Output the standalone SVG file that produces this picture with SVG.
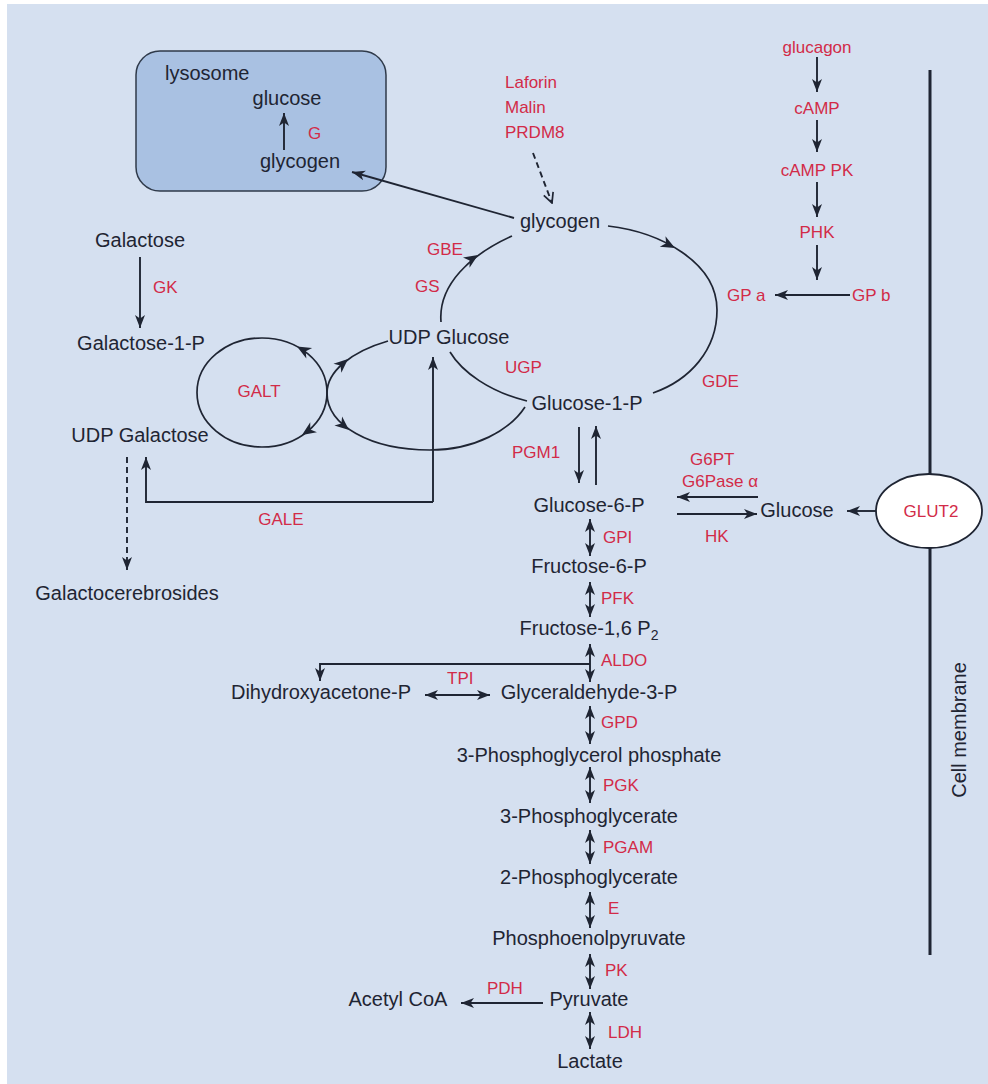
<svg xmlns="http://www.w3.org/2000/svg" xmlns:xlink="http://www.w3.org/1999/xlink" width="988" height="1084" viewBox="0 0 988 1084">
  <style>
    text { font-family: "Liberation Sans", Arial, sans-serif; }
    .t { font-size: 20px; fill: #1f2533; }
    .r { font-size: 17px; fill: #d22b48; }
    .m { text-anchor: middle; }
    .ln { fill: none; stroke: #1f2533; stroke-width: 1.9; }
    .cv { fill: none; stroke: #1f2533; stroke-width: 1.7; }
    .ar { marker-end: url(#ah); }
    .da { marker-start: url(#ah); marker-end: url(#ah); }
    .dash { stroke-dasharray: 6 4; }
  </style>
  <defs>
    <marker id="ah" viewBox="0 0 13 11" refX="13" refY="5.5" markerWidth="13" markerHeight="11" markerUnits="userSpaceOnUse" orient="auto-start-reverse">
      <path d="M0,0.5 L13,5.5 L0,10.5 L3.5,5.5 Z" fill="#1f2533"/>
    </marker>
    <marker id="ov" viewBox="0 0 12 12" refX="11" refY="6" markerWidth="12" markerHeight="12" markerUnits="userSpaceOnUse" orient="auto">
      <path d="M1,1 L11,6 L1,11" fill="none" stroke="#1f2533" stroke-width="1.7"/>
    </marker>
    <path id="hd" d="M-14,-6 L0,0 L-14,6 L-10,0 Z" fill="#1f2533"/>
  </defs>

  <!-- page -->
  <rect x="0" y="0" width="988" height="1084" fill="#ffffff"/>
  <rect x="7" y="4" width="981" height="1080" fill="#d5e0f0"/>

  <!-- cell membrane -->
  <g id="membrane">
    <line x1="930" y1="70" x2="930" y2="955" stroke="#1f2533" stroke-width="3"/>
    <text class="t m" transform="translate(966,730) rotate(-90)">Cell membrane</text>
  </g>

  <!-- lysosome compartment -->
  <g id="lysosome">
    <rect x="136" y="51" width="250" height="140" rx="24" fill="#a9c1e2" stroke="#2f3a4a" stroke-width="1.5"/>
    <text class="t" x="165" y="80">lysosome</text>
    <text class="t m" x="287" y="105">glucose</text>
    <text class="t m" x="300" y="168">glycogen</text>
    <text class="r" x="308" y="139">G</text>
  </g>

  <!-- connectors -->
  <g id="connectors">
    <path class="ln ar" d="M284,150 V113"/>
    <path class="ln ar" d="M514,218 L352,172"/>
    <path class="ln dash" d="M533,153 L552,203" marker-end="url(#ov)"/>

    <!-- glucagon cascade -->
    <path class="ln ar" d="M817,57 V92"/>
    <path class="ln ar" d="M817,120 V152"/>
    <path class="ln ar" d="M817,182 V217"/>
    <path class="ln ar" d="M817,245 V280"/>
    <path class="ln ar" d="M850,295 H775"/>

    <!-- glycogen cycle -->
    <path class="cv" d="M441,322 C438,285 470,255 512,236"/>
    <path class="cv" d="M608,226 C660,232 717,262 717,310 C717,350 690,380 653,393"/>
    <path class="cv" d="M450,352 C462,372 490,392 527,401"/>
    <use xlink:href="#hd" href="#hd" transform="translate(478,255) rotate(-33)"/>
    <use xlink:href="#hd" href="#hd" transform="translate(675,248) rotate(28)"/>

    <!-- galactose branch -->
    <path class="ln ar" d="M140,257 V328"/>
    <path class="ln dash ar" d="M127,457 V570"/>
    <ellipse class="cv" cx="262" cy="392.5" rx="65" ry="54.5"/>
    <use xlink:href="#hd" href="#hd" transform="translate(297,346.5) rotate(209)"/>
    <use xlink:href="#hd" href="#hd" transform="translate(302,435) rotate(146)"/>
    <path class="cv" d="M388,341 C350,352 327,372 327,393 C327,425 370,450 430,450 C475,450 510,430 525,407"/>
    <use xlink:href="#hd" href="#hd" transform="translate(348,359) rotate(-41)"/>
    <use xlink:href="#hd" href="#hd" transform="translate(349,430) rotate(40)"/>
    <path class="ln ar" d="M433,502 V357"/>
    <path class="ln ar" d="M433,502 H146 V457"/>

    <!-- glucose-1-P / glucose-6-P -->
    <path class="ln ar" d="M579,427 V483"/>
    <path class="ln ar" d="M596,485 V426"/>
    <path class="ln ar" d="M758,497 H677"/>
    <path class="ln ar" d="M677,514 H757"/>
    <path class="ln ar" d="M876,511 H847"/>

    <!-- glycolysis -->
    <path class="ln da" d="M590,519 V556"/>
    <path class="ln da" d="M590,582 V617"/>
    <path class="ln da" d="M590,644 V682"/>
    <path class="ln ar" d="M590,664 H320 V681"/>
    <path class="ln da" d="M425,695 H490"/>
    <path class="ln da" d="M590,706 V744"/>
    <path class="ln da" d="M590,767 V803"/>
    <path class="ln da" d="M590,830 V864"/>
    <path class="ln da" d="M590,892 V928"/>
    <path class="ln da" d="M590,954 V989"/>
    <path class="ln ar" d="M543,1003 H461"/>
    <path class="ln da" d="M590,1012 V1049"/>
  </g>

  <!-- transporter -->
  <g id="glut2">
    <ellipse cx="929" cy="511" rx="53" ry="37" fill="#ffffff" stroke="#1f2533" stroke-width="1.8"/>
    <text class="r m" x="931" y="517">GLUT2</text>
  </g>

  <!-- regulators -->
  <g id="regulators">
    <text class="r" x="505" y="88">Laforin</text>
    <text class="r" x="505" y="113">Malin</text>
    <text class="r" x="505" y="138">PRDM8</text>
  </g>
  <g id="glucagon"><text class="r m" x="817" y="53">glucagon</text></g>
  <g id="camp"><text class="r m" x="817" y="114">cAMP</text></g>
  <g id="camp-pk"><text class="r m" x="817" y="176">cAMP PK</text></g>
  <g id="phk"><text class="r m" x="817" y="238">PHK</text></g>
  <g id="gpa"><text class="r" x="727" y="301">GP a</text></g>
  <g id="gpb"><text class="r" x="852" y="301">GP b</text></g>

  <!-- metabolites -->
  <g id="glycogen"><text class="t m" x="560" y="228">glycogen</text></g>
  <g id="udp-glucose"><text class="t m" x="449" y="344">UDP Glucose</text></g>
  <g id="glucose-1-p"><text class="t m" x="587" y="410">Glucose-1-P</text></g>
  <g id="galactose"><text class="t m" x="140" y="247">Galactose</text></g>
  <g id="galactose-1-p"><text class="t m" x="141" y="350">Galactose-1-P</text></g>
  <g id="udp-galactose"><text class="t m" x="140" y="442">UDP Galactose</text></g>
  <g id="galactocerebrosides"><text class="t m" x="127" y="600">Galactocerebrosides</text></g>
  <g id="glucose-6-p"><text class="t m" x="589" y="512">Glucose-6-P</text></g>
  <g id="glucose"><text class="t m" x="797" y="517">Glucose</text></g>
  <g id="fructose-6-p"><text class="t m" x="589" y="573">Fructose-6-P</text></g>
  <g id="fructose-16-p2"><text class="t m" x="589" y="635">Fructose-1,6 P<tspan font-size="14" dy="5">2</tspan></text></g>
  <g id="dhap"><text class="t m" x="321" y="699">Dihydroxyacetone-P</text></g>
  <g id="g3p"><text class="t m" x="589" y="699">Glyceraldehyde-3-P</text></g>
  <g id="bpg"><text class="t m" x="589" y="762">3-Phosphoglycerol phosphate</text></g>
  <g id="pg3"><text class="t m" x="589" y="823">3-Phosphoglycerate</text></g>
  <g id="pg2"><text class="t m" x="589" y="884">2-Phosphoglycerate</text></g>
  <g id="pep"><text class="t m" x="589" y="945">Phosphoenolpyruvate</text></g>
  <g id="pyruvate"><text class="t m" x="589" y="1006">Pyruvate</text></g>
  <g id="acetyl-coa"><text class="t m" x="398" y="1006">Acetyl CoA</text></g>
  <g id="lactate"><text class="t m" x="590" y="1068">Lactate</text></g>

  <!-- enzymes -->
  <g id="enzymes">
    <text class="r" x="427" y="255">GBE</text>
    <text class="r" x="415" y="292">GS</text>
    <text class="r" x="505" y="373">UGP</text>
    <text class="r" x="702" y="387">GDE</text>
    <text class="r" x="153" y="293">GK</text>
    <text class="r m" x="259" y="397">GALT</text>
    <text class="r m" x="281" y="525">GALE</text>
    <text class="r" x="512" y="458">PGM1</text>
    <text class="r" x="690" y="465">G6PT</text>
    <text class="r" x="682" y="487">G6Pase α</text>
    <text class="r" x="705" y="542">HK</text>
    <text class="r" x="603" y="543">GPI</text>
    <text class="r" x="601" y="604">PFK</text>
    <text class="r" x="601" y="666">ALDO</text>
    <text class="r" x="447" y="684">TPI</text>
    <text class="r" x="601" y="728">GPD</text>
    <text class="r" x="603" y="791">PGK</text>
    <text class="r" x="603" y="853">PGAM</text>
    <text class="r" x="608" y="914">E</text>
    <text class="r" x="605" y="976">PK</text>
    <text class="r" x="487" y="994">PDH</text>
    <text class="r" x="608" y="1038">LDH</text>
  </g>
</svg>
